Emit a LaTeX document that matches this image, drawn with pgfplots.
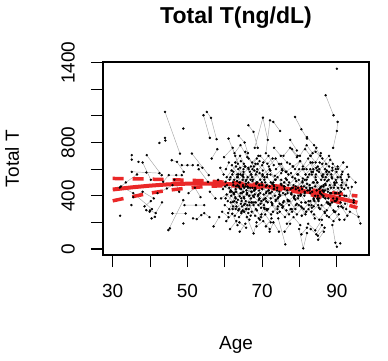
\documentclass[border=0pt]{standalone}
\usepackage{pgfplots}
\pgfplotsset{compat=1.18}
\usepackage{pgfplotstable}
\usepackage{fontspec}
\setmainfont{Liberation Sans}
\definecolor{rred}{RGB}{234,40,40}
\definecolor{sgray}{RGB}{165,165,165}

\pgfplotstableread[row sep=\\]{
x y\\
32.0 250\\nan nan\\
31.9 462\\33.5 500\\36.5 560\\nan nan\\
32.2 470\\35.5 420\\40.5 300\\nan nan\\
35.1 705\\35.1 672\\nan nan\\
35.1 580\\39.0 575\\42.5 570\\nan nan\\
36.9 655\\nan nan\\
38.0 650\\40.2 520\\nan nan\\
39.1 705\\43.1 555\\nan nan\\
35.5 390\\38.0 430\\41.0 380\\nan nan\\
40.0 290\\41.5 270\\43.2 350\\nan nan\\
42.5 797\\nan nan\\
44.0 835\\44.1 815\\nan nan\\
44.0 1030\\48.0 717\\nan nan\\
45.8 667\\47.2 655\\49.0 580\\nan nan\\
44.9 142\\48.9 367\\nan nan\\
48.9 905\\nan nan\\
51.2 717\\55.7 555\\nan nan\\
48.5 630\\50.0 630\\51.4 630\\nan nan\\
52.8 630\\54.0 610\\nan nan\\
49.2 330\\52.3 330\\54.5 330\\nan nan\\
46.0 267\\49.5 267\\nan nan\\
48.9 192\\nan nan\\
45.3 155\\nan nan\\
39.0 292\\39.9 280\\nan nan\\
40.4 230\\41.3 242\\nan nan\\
35.0 330\\nan nan\\
51.5 230\\52.5 225\\53.7 255\\54.5 270\\55.9 240\\nan nan\\
54.3 1005\\56.0 835\\nan nan\\
55.2 1030\\56.3 985\\57.8 825\\nan nan\\
56.5 680\\58.0 750\\nan nan\\
42.0 420\\44.5 455\\46.0 480\\nan nan\\
43.5 505\\45.0 555\\47.0 555\\48.5 555\\nan nan\\
46.5 520\\47.8 430\\nan nan\\
50.3 420\\52.0 460\\53.5 390\\nan nan\\
56.0 430\\57.5 380\\nan nan\\
53.0 600\\55.5 505\\nan nan\\
38.5 320\\40.2 360\\nan nan\\
57.0 170\\58.5 240\\nan nan\\
58.2 520\\60.1 470\\61.9 430\\nan nan\\
58.8 610\\59.7 560\\nan nan\\
59.0 380\\60.5 410\\62.2 355\\63.8 300\\nan nan\\
59.3 280\\61.0 240\\nan nan\\
59.5 450\\60.2 505\\61.5 540\\63.0 470\\nan nan\\
59.8 690\\62.1 760\\63.5 640\\nan nan\\
60.0 330\\61.2 300\\62.8 390\\nan nan\\
60.3 600\\61.1 650\\nan nan\\
60.4 210\\62.0 265\\63.4 180\\nan nan\\
60.6 480\\61.6 440\\62.5 520\\64.0 455\\nan nan\\
60.8 360\\62.4 420\\nan nan\\
61.0 830\\62.8 700\\64.1 610\\nan nan\\
61.3 520\\62.3 580\\63.3 540\\nan nan\\
61.4 150\\63.1 210\\nan nan\\
61.7 400\\62.9 450\\64.4 380\\65.9 420\\nan nan\\
61.9 630\\63.6 560\\65.0 600\\nan nan\\
62.1 300\\63.2 350\\64.5 280\\nan nan\\
62.3 480\\63.9 500\\nan nan\\
62.6 720\\64.2 780\\66.0 690\\nan nan\\
62.7 250\\64.6 320\\66.3 270\\nan nan\\
63.0 430\\64.0 395\\65.2 460\\66.5 400\\nan nan\\
63.3 560\\65.1 640\\nan nan\\
63.5 370\\65.4 340\\67.0 380\\nan nan\\
63.7 850\\65.3 800\\66.2 720\\nan nan\\
63.9 200\\65.7 160\\nan nan\\
64.1 500\\65.0 540\\66.1 470\\67.4 510\\nan nan\\
64.3 660\\66.4 600\\nan nan\\
64.6 420\\65.8 440\\67.2 430\\nan nan\\
64.8 290\\66.6 330\\68.1 250\\nan nan\\
65.0 580\\66.9 520\\68.3 560\\nan nan\\
65.2 380\\66.0 330\\nan nan\\
65.5 730\\67.3 650\\69.0 700\\nan nan\\
65.6 470\\67.5 400\\69.2 440\\nan nan\\
65.9 240\\67.7 117\\68.5 200\\nan nan\\
66.1 540\\67.9 590\\69.5 520\\nan nan\\
66.3 930\\67.7 880\\68.8 760\\nan nan\\
66.5 350\\68.0 410\\69.8 360\\71.2 300\\nan nan\\
66.8 460\\68.4 490\\70.0 450\\nan nan\\
67.0 620\\68.6 680\\nan nan\\
67.2 280\\69.1 230\\70.5 310\\nan nan\\
67.5 520\\69.3 570\\70.8 500\\nan nan\\
67.8 390\\69.6 340\\71.0 420\\nan nan\\
68.0 760\\70.2 987\\71.5 820\\nan nan\\
68.2 450\\70.0 480\\71.8 440\\73.2 470\\nan nan\\
68.5 170\\70.3 210\\72.0 150\\nan nan\\
68.7 600\\70.6 540\\72.2 590\\nan nan\\
69.0 330\\70.9 380\\72.5 350\\nan nan\\
69.3 480\\71.2 430\\73.0 500\\nan nan\\
69.5 700\\71.4 640\\72.8 680\\nan nan\\
69.8 260\\71.6 300\\nan nan\\
70.1 560\\72.0 600\\73.5 520\\nan nan\\
70.4 410\\72.3 380\\74.0 440\\nan nan\\
70.7 300\\72.4 260\\74.2 320\\nan nan\\
71.0 720\\72.1 967\\73.0 955\\74.8 887\\nan nan\\
71.2 480\\73.1 450\\75.0 490\\nan nan\\
71.5 350\\73.4 400\\75.2 330\\76.8 370\\nan nan\\
71.8 620\\73.6 680\\75.4 590\\nan nan\\
72.0 130\\73.0 200\\74.5 130\\nan nan\\
72.3 500\\74.1 540\\75.8 470\\nan nan\\
72.6 430\\74.4 390\\76.2 410\\nan nan\\
72.9 280\\74.7 340\\76.5 290\\nan nan\\
73.2 760\\75.0 700\\76.7 650\\nan nan\\
73.4 550\\75.3 600\\77.0 560\\nan nan\\
73.7 370\\75.6 320\\77.3 360\\78.9 300\\nan nan\\
74.0 460\\75.9 500\\77.6 450\\nan nan\\
74.3 230\\76.2 35\\nan nan\\
74.5 640\\76.4 580\\78.2 620\\nan nan\\
74.8 400\\76.7 440\\78.5 390\\nan nan\\
75.1 520\\77.0 480\\78.8 530\\80.5 470\\nan nan\\
75.4 310\\77.2 260\\79.0 330\\nan nan\\
75.7 700\\77.5 760\\79.3 690\\nan nan\\
76.0 450\\77.8 410\\79.6 460\\nan nan\\
76.3 580\\78.1 540\\79.9 600\\nan nan\\
76.6 190\\78.4 240\\80.2 180\\nan nan\\
76.9 360\\78.7 400\\80.5 350\\nan nan\\
77.2 500\\79.0 450\\80.8 510\\nan nan\\
77.5 820\\79.3 740\\nan nan\\
77.8 420\\79.6 380\\81.4 430\\nan nan\\
78.0 280\\79.8 330\\81.6 260\\nan nan\\
78.3 620\\80.1 660\\81.9 600\\nan nan\\
78.8 992\\80.5 900\\82.0 830\\nan nan\\
79.0 470\\80.8 500\\82.6 440\\nan nan\\
79.3 340\\81.1 300\\82.9 360\\nan nan\\
79.6 560\\81.4 520\\83.2 580\\nan nan\\
79.9 150\\81.0 5\\82.0 120\\nan nan\\
80.1 700\\81.9 780\\83.5 720\\nan nan\\
80.3 400\\82.1 440\\83.8 380\\85.5 420\\nan nan\\
80.6 250\\82.4 300\\84.1 230\\nan nan\\
80.9 530\\82.7 480\\84.4 520\\nan nan\\
81.2 600\\83.0 650\\84.7 590\\nan nan\\
81.5 350\\83.3 310\\85.0 370\\nan nan\\
81.8 460\\83.6 500\\85.3 450\\87.0 480\\nan nan\\
82.0 840\\83.9 780\\85.6 700\\nan nan\\
82.3 190\\84.2 140\\86.0 220\\nan nan\\
82.6 560\\84.5 610\\86.2 540\\nan nan\\
82.9 420\\84.8 380\\86.5 430\\nan nan\\
83.2 280\\85.0 330\\86.8 270\\nan nan\\
83.5 650\\85.3 600\\87.1 640\\nan nan\\
83.8 500\\85.6 460\\87.4 510\\nan nan\\
84.0 360\\85.9 410\\87.6 350\\nan nan\\
84.3 730\\86.1 680\\87.9 620\\nan nan\\
84.6 440\\86.4 470\\88.2 420\\nan nan\\
84.9 100\\86.7 160\\nan nan\\
85.2 580\\87.0 540\\88.8 590\\nan nan\\
85.5 300\\87.3 350\\89.1 290\\nan nan\\
85.8 470\\87.6 430\\89.4 480\\nan nan\\
86.1 640\\87.9 700\\89.7 600\\nan nan\\
86.4 390\\88.2 340\\90.0 380\\nan nan\\
86.7 520\\88.5 560\\nan nan\\
87.0 1155\\89.1 1005\\nan nan\\
87.3 250\\89.1 210\\90.5 260\\nan nan\\
87.6 450\\89.4 490\\91.0 430\\nan nan\\
87.9 580\\89.7 520\\91.3 560\\nan nan\\
88.2 330\\90.0 370\\91.6 310\\nan nan\\
88.5 420\\90.3 460\\92.0 400\\nan nan\\
88.8 180\\89.6 47\\90.0 17\\nan nan\\
89.0 760\\90.0 887\\90.2 955\\nan nan\\
89.3 500\\91.0 540\\92.5 480\\nan nan\\
89.6 280\\91.2 320\\92.8 250\\nan nan\\
90.0 1355\\nan nan\\
90.2 620\\91.5 580\\92.7 617\\nan nan\\
90.5 420\\92.0 450\\93.2 542\\nan nan\\
90.9 42\\nan nan\\
91.0 350\\92.5 300\\94.0 467\\nan nan\\
91.4 500\\93.0 460\\94.5 367\\nan nan\\
92.0 220\\93.5 280\\95.8 242\\nan nan\\
92.5 400\\94.5 350\\96.3 192\\nan nan\\
93.0 560\\95.0 500\\nan nan\\
60.2 380\\61.4 430\\62.6 360\\nan nan\\
60.5 540\\61.8 590\\63.0 620\\nan nan\\
60.9 270\\62.2 320\\63.6 290\\nan nan\\
61.2 460\\62.5 410\\63.7 470\\65.0 430\\nan nan\\
61.6 350\\62.9 300\\64.3 340\\nan nan\\
62.0 560\\63.3 510\\64.7 550\\nan nan\\
62.4 420\\63.8 470\\65.1 390\\nan nan\\
62.8 650\\64.1 700\\65.5 620\\nan nan\\
63.1 320\\64.4 270\\65.8 300\\nan nan\\
63.4 480\\64.8 520\\66.2 460\\nan nan\\
63.8 240\\65.2 280\\66.6 220\\nan nan\\
64.2 560\\65.6 510\\67.0 560\\nan nan\\
64.5 360\\65.9 410\\67.3 350\\nan nan\\
64.9 470\\66.3 500\\67.8 440\\nan nan\\
65.3 620\\66.7 580\\68.2 640\\nan nan\\
65.7 300\\67.1 350\\68.6 290\\nan nan\\
66.0 420\\67.4 460\\68.9 400\\nan nan\\
66.4 680\\67.8 620\\69.3 660\\nan nan\\
66.9 250\\68.3 300\\69.7 240\\nan nan\\
67.3 540\\68.7 500\\70.1 550\\nan nan\\
67.7 330\\69.1 370\\70.5 330\\nan nan\\
68.1 460\\69.5 420\\71.0 470\\nan nan\\
68.6 580\\70.0 630\\71.4 560\\nan nan\\
69.0 410\\70.4 370\\71.9 420\\nan nan\\
69.4 220\\70.8 260\\72.3 200\\nan nan\\
69.9 500\\71.3 540\\72.7 490\\nan nan\\
70.3 650\\71.7 700\\73.1 630\\nan nan\\
70.8 380\\72.2 420\\73.6 360\\nan nan\\
71.3 290\\72.7 330\\74.1 270\\nan nan\\
71.7 440\\73.1 480\\74.6 430\\nan nan\\
72.2 560\\73.6 520\\75.1 570\\nan nan\\
72.7 340\\74.1 300\\75.6 350\\nan nan\\
73.2 450\\74.6 410\\76.0 470\\nan nan\\
73.7 600\\75.1 640\\76.5 580\\nan nan\\
74.2 380\\75.6 420\\77.1 360\\nan nan\\
74.7 280\\76.1 240\\77.6 300\\nan nan\\
75.2 480\\76.6 520\\78.0 460\\nan nan\\
75.8 360\\77.2 330\\78.6 380\\nan nan\\
76.3 530\\77.7 570\\79.1 510\\nan nan\\
76.8 420\\78.2 460\\79.7 400\\nan nan\\
77.4 640\\78.8 600\\80.2 660\\nan nan\\
77.9 300\\79.3 260\\80.7 310\\nan nan\\
78.4 480\\79.8 520\\81.2 470\\nan nan\\
78.9 370\\80.3 410\\81.7 350\\nan nan\\
79.4 560\\80.8 600\\82.2 540\\nan nan\\
79.9 440\\81.3 400\\82.8 450\\nan nan\\
80.4 320\\81.8 280\\83.2 330\\nan nan\\
80.9 620\\82.3 680\\83.7 600\\nan nan\\
81.4 420\\82.8 460\\84.2 400\\nan nan\\
81.9 520\\83.3 560\\84.7 500\\nan nan\\
82.4 360\\83.8 320\\85.2 380\\nan nan\\
82.9 700\\84.3 650\\85.7 720\\nan nan\\
83.4 460\\84.8 500\\86.2 440\\nan nan\\
83.9 260\\85.3 220\\86.7 280\\nan nan\\
84.4 560\\85.8 520\\87.2 580\\nan nan\\
84.9 400\\86.3 440\\87.7 380\\nan nan\\
85.4 650\\86.8 600\\88.2 670\\nan nan\\
85.9 330\\87.3 290\\88.7 350\\nan nan\\
86.4 480\\87.8 520\\89.2 460\\nan nan\\
86.9 380\\88.3 420\\89.7 360\\nan nan\\
87.4 560\\88.8 610\\90.2 540\\nan nan\\
87.9 240\\89.3 280\\90.7 220\\nan nan\\
88.4 460\\89.8 420\\91.2 480\\nan nan\\
88.9 640\\90.3 600\\91.7 650\\nan nan\\
89.4 360\\90.8 400\\92.2 340\\nan nan\\
89.9 500\\91.3 460\\92.7 520\\nan nan\\
83.0 150\\84.5 110\\86.0 180\\nan nan\\
85.0 70\\86.5 130\\nan nan\\
80.5 110\\82.0 160\\nan nan\\
76.0 130\\77.5 190\\nan nan\\
71.0 170\\72.5 230\\nan nan\\
64.0 130\\65.5 190\\nan nan\\
81.5 750\\83.0 700\\84.5 760\\nan nan\\
78.0 750\\79.5 700\\nan nan\\
62.2 500\\63.5 540\\64.9 480\\nan nan\\
62.9 380\\64.2 420\\65.6 360\\nan nan\\
63.6 600\\64.9 560\\66.3 610\\nan nan\\
64.4 450\\65.7 490\\67.1 430\\nan nan\\
65.1 330\\66.4 300\\67.8 350\\nan nan\\
65.8 520\\67.1 560\\68.5 500\\nan nan\\
66.6 400\\67.9 440\\69.3 380\\nan nan\\
67.4 600\\68.8 640\\70.2 590\\nan nan\\
68.3 350\\69.7 310\\71.1 360\\nan nan\\
69.2 480\\70.6 520\\72.0 470\\nan nan\\
80.7 450\\82.0 490\\83.4 430\\nan nan\\
81.6 560\\82.9 600\\84.3 540\\nan nan\\
82.5 330\\83.8 370\\85.2 310\\nan nan\\
83.6 580\\84.9 620\\86.3 560\\nan nan\\
84.2 470\\85.5 430\\86.9 490\\nan nan\\
85.1 360\\86.4 400\\87.8 340\\nan nan\\
86.0 550\\87.3 590\\88.7 530\\nan nan\\
86.8 440\\88.1 480\\89.5 420\\nan nan\\
87.7 340\\89.0 380\\90.4 320\\nan nan\\
88.6 540\\89.9 580\\91.3 520\\nan nan\\
}\spag

\pgfplotstableread[row sep=\\]{
x fit up lo\\
30 447 530 362\\
35 463 528 392\\
40 476 525 420\\
45 486 521 442\\
50 491 517 458\\
55 492 512 470\\
60 489 502 476\\
65 482 493 472\\
70 472 483 461\\
75 459 471 447\\
80 441 456 426\\
85 416 438 396\\
90 385 418 355\\
95.5 348 398 310\\
}\fits

\begin{document}
\begin{tikzpicture}
\useasboundingbox (0pt,0pt) rectangle (388pt,360pt);
\begin{axis}[
  at={(103pt,105pt)}, anchor=south west,
  scale only axis, width=266pt, height=193pt,
  xmin=27.4, xmax=98.6, ymin=-45, ymax=1405,
  unbounded coords=jump,
  axis line style={line width=1.1pt},
  tick style={line width=1.1pt, black},
  tick align=outside, xtick pos=left, ytick pos=left,
  major tick length=12pt,
  xtick={30,40,...,90}, xticklabels={30,,50,,70,,90},
  ytick={0,200,...,1400}, yticklabels={0,,400,,800,,,1400},
  ticklabel style={font=\fontsize{19pt}{22pt}\selectfont},
  xticklabel style={anchor=north, inner sep=0pt, yshift=-17pt},
  yticklabel style={xshift=-16pt, rotate=90, anchor=south, inner sep=0pt},
  title={Total T(ng/dL)},
  title style={font=\bfseries\fontsize{23pt}{26pt}\selectfont, at={(axis description cs:0.5,1.197)}, anchor=center},
  xlabel={Age}, ylabel={Total T},
  xlabel style={font=\fontsize{19pt}{22pt}\selectfont, at={(axis description cs:0.5,-0.466)}, anchor=center},
  ylabel style={font=\fontsize{19pt}{22pt}\selectfont, at={(axis description cs:-0.342,0.5)}, anchor=center},
]
\addplot[sgray, line width=0.45pt] table[x=x, y=y] {\spag};
\addplot[only marks, mark=*, mark size=1pt, black] table[x=x, y=y] {\spag};
\addplot[rred, line width=4pt] table[x=x, y=fit] {\fits};
\addplot[rred, line width=3.5pt, dash pattern=on 11pt off 9pt] table[x=x, y=up] {\fits};
\addplot[rred, line width=3.5pt, dash pattern=on 11pt off 9pt] table[x=x, y=lo] {\fits};
\end{axis}
\end{tikzpicture}
\end{document}
